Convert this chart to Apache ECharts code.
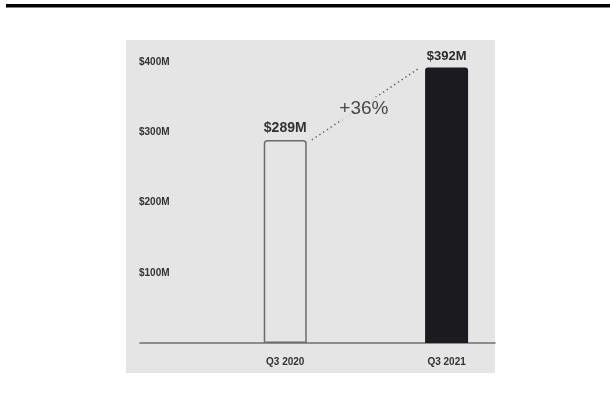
<!DOCTYPE html>
<html>
<head>
<meta charset="utf-8">
<script src="https://cdn.jsdelivr.net/npm/echarts@6/dist/echarts.min.js"></script>
<style>
html,body{margin:0;padding:0;background:#fff;}
#chart{width:610px;height:409px;}
</style>
</head>
<body>
<div id="chart"></div>
<script>
// Data
const categories = ['Q3 2020', 'Q3 2021'];
const revenue = [289, 392];            // $M
const yTickValues = [100, 200, 300, 400];
const growthLabel = '+' + Math.round((revenue[1] - revenue[0]) / revenue[0] * 100) + '%';

const FONT = '"Liberation Sans", Arial, Helvetica, sans-serif';
const xPos = categories.map((c, i) => i + 1);
const gap = 0.165;
const connector = [[xPos[0] + gap, revenue[0]], [xPos[1] - gap, revenue[1]]];
const mid = [(connector[0][0] + connector[1][0]) / 2, (connector[0][1] + connector[1][1]) / 2];

const chart = echarts.init(document.getElementById('chart'), null, {renderer: 'canvas'});
chart.setOption({
  animation: false,
  backgroundColor: '#ffffff',
  textStyle: {fontFamily: FONT},
  graphic: [
    {type: 'rect', z: -10, shape: {x: 126, y: 40, width: 369, height: 333}, style: {fill: '#e5e5e5'}},
    {type: 'rect', z: -10, shape: {x: 6, y: 4, width: 604, height: 3.5}, style: {fill: '#000000'}}
  ],
  grid: {left: 140, right: 115, top: 62, bottom: 66},
  xAxis: {
    type: 'value', min: 0.1, max: 2.3,
    axisLine: {show: true, onZero: false, lineStyle: {color: '#6f6f6f', width: 1.5}},
    axisTick: {show: false},
    splitLine: {show: false},
    axisLabel: {
      customValues: xPos,
      formatter: v => categories[Math.round(v) - 1] || '',
      margin: 14, fontSize: 10, fontWeight: 'bold', color: '#333', fontFamily: FONT
    }
  },
  yAxis: {
    type: 'value', min: 0, max: 400, interval: 100,
    axisLine: {show: false}, axisTick: {show: false}, splitLine: {show: false},
    axisLabel: {
      customValues: yTickValues,
      inside: true, margin: -1, align: 'left',
      formatter: v => '$' + v + 'M',
      fontSize: 10, fontWeight: 'bold', color: '#333', fontFamily: FONT,
      padding: [0, 0, 3, 0]
    }
  },
  series: [
    {
      type: 'bar', barWidth: 43, z: 3,
      data: revenue.map((v, i) => ({
        value: [xPos[i], v],
        itemStyle: i === 0
          ? {color: '#e5e5e5', borderColor: '#6b6b6b', borderWidth: 1.5, borderRadius: [3, 3, 0, 0]}
          : {color: '#1b1b1f', borderRadius: [3, 3, 0, 0]},
        label: i === 0
          ? {fontSize: 14, fontWeight: 'bold', color: '#333'}
          : {fontSize: 13, fontWeight: 'bold', color: '#2b2b2b'}
      })),
      label: {
        show: true, position: 'top', distance: 5, fontFamily: FONT,
        formatter: p => '$' + p.value[1] + 'M'
      }
    },
    {
      type: 'line', z: 2, symbol: 'none',
      data: connector,
      lineStyle: {color: '#666', width: 1.5, type: [1.5, 3]}
    },
    {
      type: 'scatter', z: 5, symbolSize: 0,
      data: [mid],
      label: {
        show: true, position: 'inside', formatter: growthLabel, offset: [-2, 5],
        fontSize: 19, color: '#1e1e1e', fontFamily: FONT,
        backgroundColor: '#e5e5e5', padding: [2, 3]
      }
    }
  ]
});
</script>
</body>
</html>
